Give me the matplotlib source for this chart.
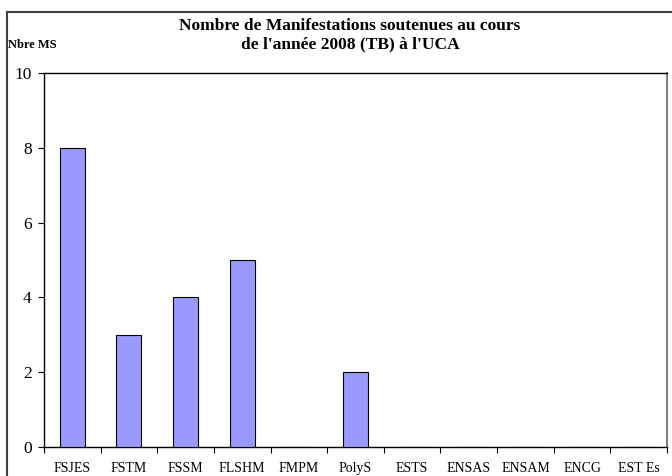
import matplotlib
matplotlib.use("Agg")
import matplotlib.pyplot as plt
from matplotlib.lines import Line2D

categories = ["FSJES", "FSTM", "FSSM", "FLSHM", "FMPM", "PolyS", "ESTS", "ENSAS", "ENSAM", "ENCG", "EST Es"]
values = [8, 3, 4, 5, 0, 2, 0, 0, 0, 0, 0]
yticks = [0, 2, 4, 6, 8, 10]
title = "Nombre de Manifestations soutenues au cours\nde l'année 2008 (TB) à l'UCA"
ylabel = "Nbre MS"

plt.rcParams['font.family'] = ['Liberation Serif', 'DejaVu Serif']

W, H = 672, 476
fig = plt.figure(figsize=(W / 100, H / 100), dpi=100)
ax = fig.add_axes([44 / W, 1 - 447 / H, (667 - 44) / W, (447 - 73) / H])

x = list(range(len(categories)))
ax.bar(x, values, width=0.44, color="#9999FF", edgecolor="black", linewidth=0.8, zorder=3)
ax.set_xlim(-0.5, len(categories) - 0.5)
ax.set_ylim(0, 10)
ax.set_yticks(yticks)
ax.set_yticklabels([str(t) for t in yticks], fontsize=12.5)
ax.set_xticks(x)
ax.set_xticklabels(categories, fontsize=10)
ax.tick_params(axis='x', length=0, pad=11)
ax.set_xticks([i - 0.5 for i in range(len(categories) + 1)], minor=True)
ax.tick_params(axis='x', which='minor', length=4, width=0.8, direction='out')
ax.tick_params(axis='y', length=4, width=0.8, direction='out', pad=5)

for s in ["left", "bottom", "top"]:
    ax.spines[s].set_color("black")
    ax.spines[s].set_linewidth(1.0)
ax.spines["right"].set_color("#808080")
ax.spines["right"].set_linewidth(1.5)

# outer chart border
fig.add_artist(Line2D([7 / W, 7 / W], [0, 1 - 12 / H], transform=fig.transFigure, color="#404040", lw=1.5))
fig.add_artist(Line2D([7 / W, 1], [1 - 12 / H, 1 - 12 / H], transform=fig.transFigure, color="#404040", lw=1.5))

fig.text(350 / W, 1 - 35 / H, title, ha="center", va="center", multialignment="center",
         fontsize=12.5, fontweight="bold", linespacing=1.2)
fig.text(8 / W, 1 - 45 / H, ylabel, ha="left", va="center", fontsize=9, fontweight="bold")

fig.savefig("out.png", dpi=100)
